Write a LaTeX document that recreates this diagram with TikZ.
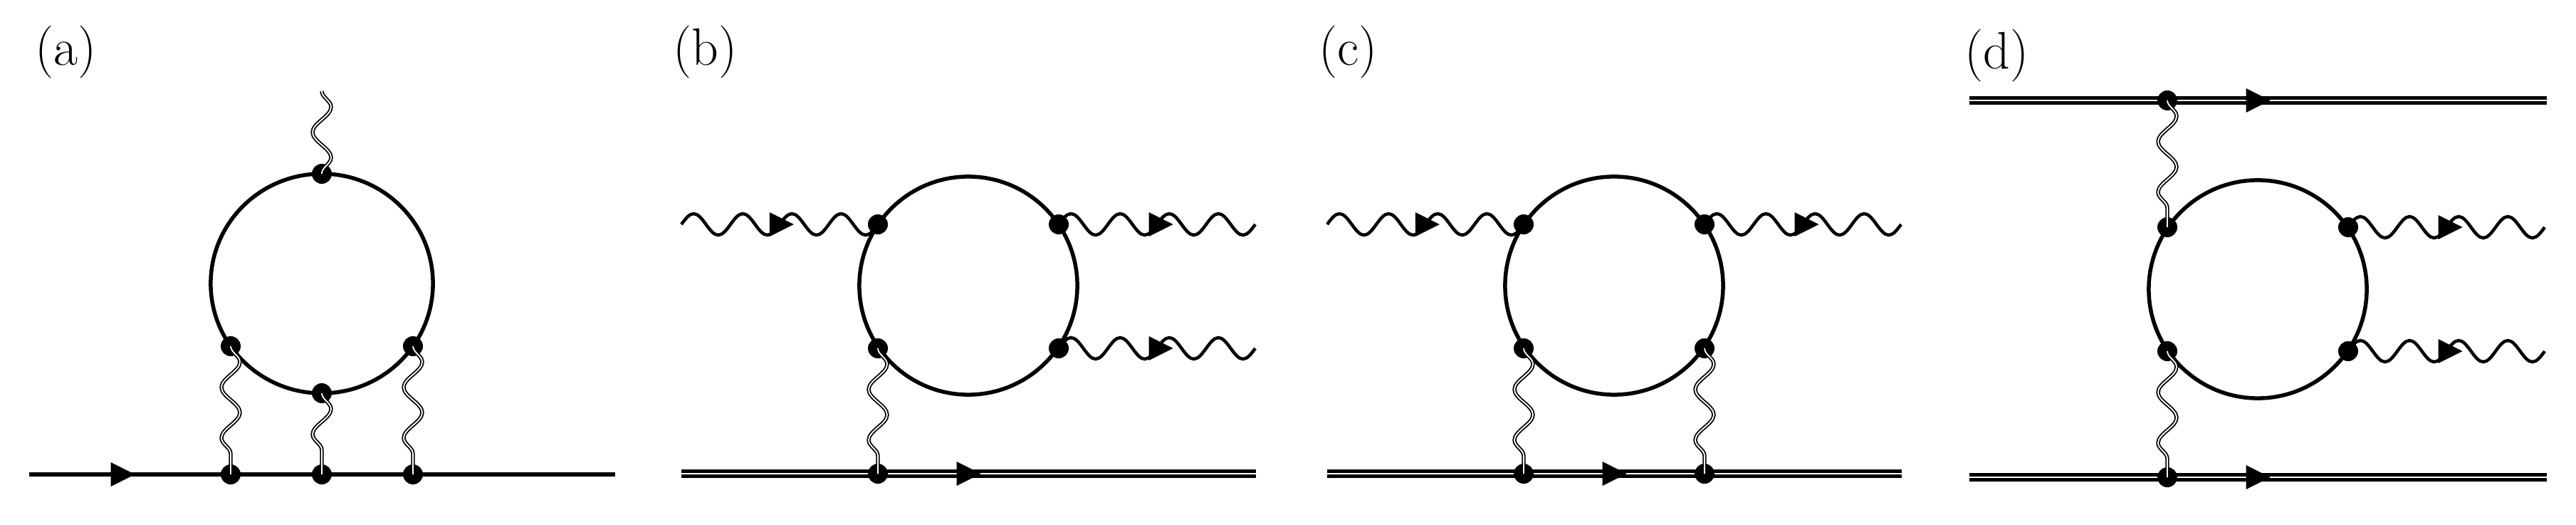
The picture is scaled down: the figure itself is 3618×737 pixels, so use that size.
\documentclass[tikz,border=0pt]{standalone}
\usetikzlibrary{decorations.pathmorphing,decorations.markings,shapes.geometric}
\begin{document}
\begin{tikzpicture}[x=0.01cm,y=-0.01cm]
\tikzset{
 ph/.style={line width=0.045cm},
 vph/.style={decorate,decoration={snake,segment length=0.71cm,amplitude=0.13cm},double,line width=0.018cm,double distance=0.018cm},
 fer/.style={line width=0.055cm},
 heavy/.style={double,line width=0.045cm,double distance=0.022cm},
 loopline/.style={line width=0.055cm},
 midarr/.style={decoration={markings,mark=at position #1 with {\fill (-0.17cm,-0.17cm)--(0.17cm,0)--(-0.17cm,0.17cm)--cycle;}},postaction={decorate}},
 vtx/.style={circle,fill,inner sep=0,minimum size=0.28cm},
 lab/.style={anchor=west,font=\fontsize{21}{25}\selectfont}
}
\newcommand\mywave{\foreach \i in {1,...,4}{ sin ++(17.25,-15) cos ++(17.25,15) sin ++(17.25,15) cos ++(17.25,-15)}}
\useasboundingbox (0,0) rectangle (3618,737);
% labels
\node[lab] (la) at (37,73) {(a)};
\node[lab] (lb) at (933,73) {(b)};
\node[lab] (lc) at (1840,73) {(c)};
\node[lab] (ld) at (2747,78) {(d)};
% ---- (a)
\draw[loopline] (452,398) ellipse [x radius=1.56cm, y radius=1.54cm];
\coordinate (aL) at (41,666); \coordinate (aR) at (864,666);
\coordinate (aT) at (452,128);
\draw[fer] (aL) -- (aR);
\path[midarr=0.16] (aL) -- (aR);
\node[vtx] (a1) at (324,666) {}; \node[vtx] (a2) at (452,666) {}; \node[vtx] (a3) at (580,666) {};
\node[vtx] (av1) at (324,486) {}; \node[vtx] (av2) at (452,552) {}; \node[vtx] (av3) at (580,486) {};
\node[vtx] (avt) at (452,244) {};
\draw[vph] (av1.center) -- (a1.center);
\draw[vph] (av2.center) -- (a2.center);
\draw[vph] (av3.center) -- (a3.center);
\draw[vph] (aT) -- (avt.center);
% ---- (b)
\draw[loopline] (1360,401) ellipse [x radius=1.53cm, y radius=1.53cm];
\coordinate (bin) at (957,315); \coordinate (bo1) at (1763,315); \coordinate (bo2) at (1763,489);
\coordinate (bhL) at (957,665); \coordinate (bhR) at (1764,665);
\node[vtx] (bUL) at (1233,315) {}; \node[vtx] (bUR) at (1487,315) {};
\node[vtx] (bLL) at (1233,489) {}; \node[vtx] (bLR) at (1487,489) {};
\draw[heavy] (bhL) -- (bhR);
\path[midarr=0.5] (bhL) -- (bhR);
\node[vtx] (bh1) at (1233,665) {};
\draw[ph] (bin) \mywave; \path[midarr=0.51] (bin) -- (bUL.center);
\draw[ph] (bUR.center) \mywave; \path[midarr=0.52] (bUR.center) -- (bo1);
\draw[ph] (bLR.center) \mywave; \path[midarr=0.52] (bLR.center) -- (bo2);
\draw[vph] (bLL.center) -- (bh1.center);
% ---- (c)
\draw[loopline] (2267,401) ellipse [x radius=1.53cm, y radius=1.53cm];
\coordinate (cin) at (1864,315); \coordinate (co1) at (2670,315);
\coordinate (chL) at (1864,665); \coordinate (chR) at (2671,665);
\node[vtx] (cUL) at (2140,315) {}; \node[vtx] (cUR) at (2394,315) {};
\node[vtx] (cLL) at (2140,489) {}; \node[vtx] (cLR) at (2394,489) {};
\draw[heavy] (chL) -- (chR);
\path[midarr=0.5] (chL) -- (chR);
\node[vtx] (ch1) at (2140,665) {}; \node[vtx] (ch2) at (2394,665) {};
\draw[ph] (cin) \mywave; \path[midarr=0.51] (cin) -- (cUL.center);
\draw[ph] (cUR.center) \mywave; \path[midarr=0.52] (cUR.center) -- (co1);
\draw[vph] (cLL.center) -- (ch1.center);
\draw[vph] (cLR.center) -- (ch2.center);
% ---- (d)
\draw[loopline] (3171,406) ellipse [x radius=1.53cm, y radius=1.53cm];
\coordinate (dtL) at (2766,141); \coordinate (dtR) at (3577,141);
\coordinate (dbL) at (2766,670); \coordinate (dbR) at (3577,670);
\coordinate (do1) at (3574,319); \coordinate (do2) at (3574,493);
\draw[heavy] (dtL) -- (dtR); \path[midarr=0.5] (dtL) -- (dtR);
\draw[heavy] (dbL) -- (dbR); \path[midarr=0.5] (dbL) -- (dbR);
\node[vtx] (dUL) at (3044,319) {}; \node[vtx] (dUR) at (3298,319) {};
\node[vtx] (dLL) at (3044,493) {}; \node[vtx] (dLR) at (3298,493) {};
\node[vtx] (dt1) at (3044,141) {}; \node[vtx] (db1) at (3044,670) {};
\draw[vph] (dt1.center) -- (dUL.center);
\draw[vph] (dLL.center) -- (db1.center);
\draw[ph] (dUR.center) \mywave; \path[midarr=0.52] (dUR.center) -- (do1);
\draw[ph] (dLR.center) \mywave; \path[midarr=0.52] (dLR.center) -- (do2);
\end{tikzpicture}
\end{document}
